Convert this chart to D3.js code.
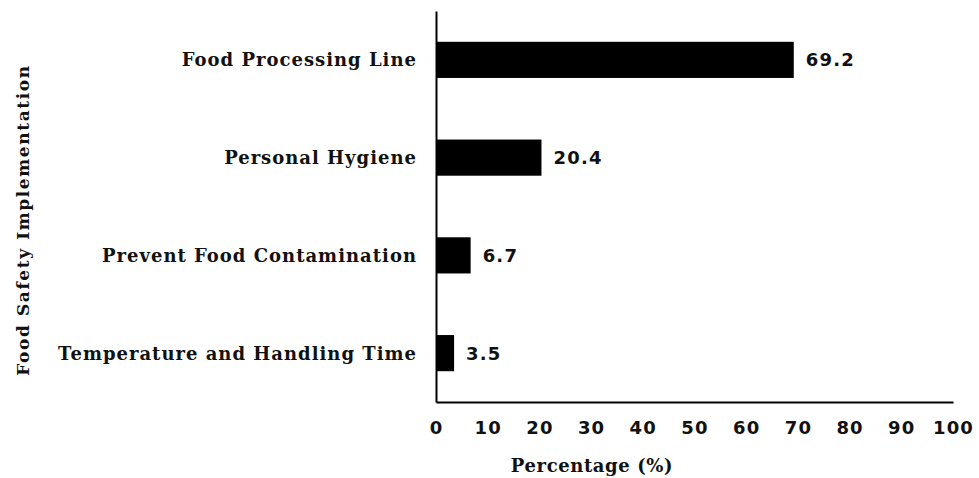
<!DOCTYPE html>
<html>
<head>
<meta charset="utf-8">
<script src="https://cdn.jsdelivr.net/npm/d3@7/dist/d3.min.js"></script>
<style>
  html, body { margin: 0; padding: 0; background: #fff; }
  svg { display: block; }
  .cat { font-family: "DejaVu Serif", serif; font-weight: bold; font-size: 18px; letter-spacing: 1px; fill: #111; }
  .num { font-family: "DejaVu Sans", sans-serif; font-weight: bold; font-size: 18px; letter-spacing: 1.2px; fill: #111; }
  .title { font-family: "DejaVu Serif", serif; font-weight: bold; font-size: 18px; letter-spacing: 0.6px; fill: #111; }
  .ytitle { font-family: "DejaVu Serif", serif; font-weight: bold; font-size: 17px; letter-spacing: 1.6px; fill: #111; }
</style>
</head>
<body>
<svg id="chart" width="979" height="478"></svg>
<script>
// Food safety implementation categories and their shares (%)
const categories = [
  "Food Processing Line",
  "Personal Hygiene",
  "Prevent Food Contamination",
  "Temperature and Handling Time"
];
const percentages = [69.2, 20.4, 6.7, 3.5];
const xTicks = [0, 10, 20, 30, 40, 50, 60, 70, 80, 90, 100];
const xTitle = "Percentage (%)";
const yTitle = "Food Safety Implementation";

const svg = d3.select("#chart");
const plotLeft = 436, plotRight = 953, plotTop = 11, plotBottom = 402;

const x = d3.scaleLinear().domain([0, 100]).range([plotLeft, plotRight]);
const y = d3.scaleBand().domain(categories).range([plotTop, plotBottom]).paddingInner(0.63).paddingOuter(0.315);

// bars
svg.append("g").selectAll("rect")
  .data(categories)
  .join("rect")
  .attr("x", x(0))
  .attr("y", d => y(d))
  .attr("width", (d, i) => x(percentages[i]) - x(0))
  .attr("height", y.bandwidth())
  .attr("fill", "#000");

// value labels
svg.append("g").selectAll("text")
  .data(categories)
  .join("text")
  .attr("class", "num")
  .attr("x", (d, i) => x(percentages[i]) + 12)
  .attr("y", d => y(d) + y.bandwidth() / 2)
  .attr("dy", "0.36em")
  .text((d, i) => percentages[i].toFixed(1));

// category labels
svg.append("g").selectAll("text")
  .data(categories)
  .join("text")
  .attr("class", "cat")
  .attr("x", plotLeft - 19)
  .attr("y", d => y(d) + y.bandwidth() / 2)
  .attr("dy", "0.36em")
  .attr("text-anchor", "end")
  .text(d => d);

// x axis
const xAxis = svg.append("g")
  .attr("transform", `translate(0,${plotBottom})`)
  .call(d3.axisBottom(x).tickValues(xTicks).tickSize(0).tickPadding(19).tickFormat(d3.format("d")));
xAxis.attr("font-family", null).attr("font-size", null);
xAxis.select(".domain").attr("stroke", "#000").attr("stroke-width", 2.2);
xAxis.selectAll("text").attr("class", "num").attr("fill", null);

// y axis line
const yAxis = svg.append("g")
  .attr("transform", `translate(${plotLeft},0)`)
  .call(d3.axisLeft(d3.scaleLinear().range([plotTop, plotBottom])).ticks(0).tickSize(0));
yAxis.select(".domain").attr("stroke", "#000").attr("stroke-width", 2);

// axis titles
svg.append("text")
  .attr("class", "title")
  .attr("x", 592)
  .attr("y", 472)
  .attr("text-anchor", "middle")
  .text(xTitle);

svg.append("text")
  .attr("class", "ytitle")
  .attr("transform", `translate(29,220) rotate(-90)`)
  .attr("text-anchor", "middle")
  .text(yTitle);
</script>
</body>
</html>
